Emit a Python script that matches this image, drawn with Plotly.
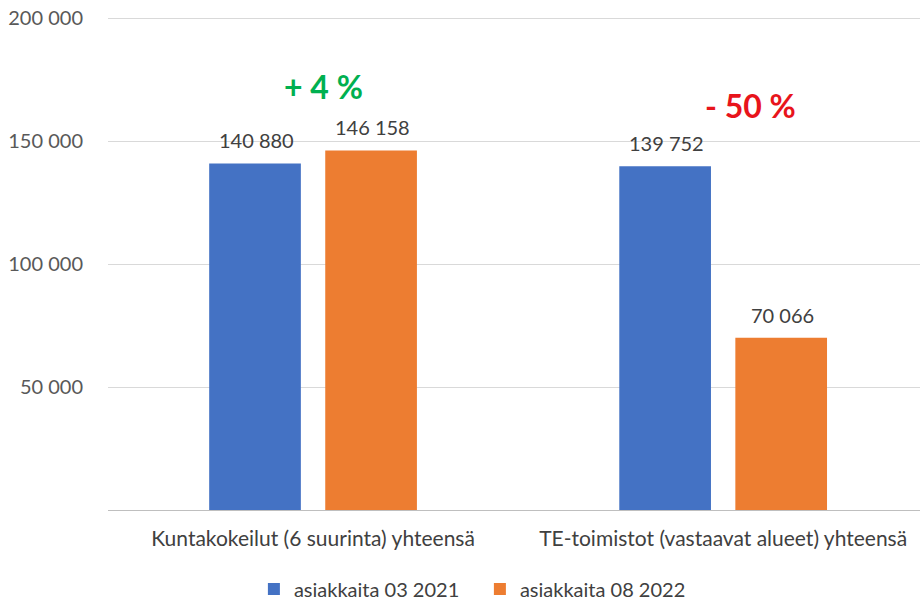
import plotly.graph_objects as go

categories = ["Kuntakokeilut (6 suurinta) yhteensä", "TE-toimistot (vastaavat alueet) yhteensä"]
series_names = ["asiakkaita 03 2021", "asiakkaita 08 2022"]
values_2021 = [140880, 139752]
values_2022 = [146158, 70066]
changes = ["+ 4 %", "- 50 %"]
tick_vals = [50000, 100000, 150000, 200000]
tick_text = ["50 000", "100 000", "150 000", "200 000"]

colors = ["#4472C4", "#ED7D31"]
FONT = "Lato, Liberation Sans, sans-serif"

def fmt(v):
    return f"{v:,}".replace(",", " ")

fig = go.Figure()
for name, vals, col in zip(series_names, [values_2021, values_2022], colors):
    fig.add_trace(go.Bar(x=categories, y=vals, name=name, marker_color=col,
                         marker_line_width=0, hoverinfo="skip"))

# value labels above bars
offsets = [-57, 59]
for vals, off in zip([values_2021, values_2022], offsets):
    for cat, v in zip(categories, vals):
        fig.add_annotation(x=cat, y=v, text=fmt(v), showarrow=False, xshift=off,
                           yshift=23, font=dict(family=FONT, size=20, color="#404040"))

# change annotations
fig.add_annotation(x=categories[0], y=172000, text="<b>" + changes[0] + "</b>", showarrow=False,
                   xshift=10, font=dict(family=FONT, size=32, color="#00B050"))
fig.add_annotation(x=categories[1], y=164500, text="<b>" + changes[1] + "</b>", showarrow=False,
                   xshift=27, font=dict(family=FONT, size=32, color="#E8141B"))

fig.update_layout(
    width=920, height=601,
    margin=dict(l=108, r=0, t=15, b=91, autoexpand=False),
    paper_bgcolor="white", plot_bgcolor="white",
    barmode="group", bargap=0.434, bargroupgap=0.21,
    font=dict(family=FONT, size=18, color="#404040"),
    showlegend=True,
    legend=dict(orientation="h", x=0.458, xanchor="center", yref="container", y=0.02,
                yanchor="middle", font=dict(family=FONT, size=20, color="#404040"),
                itemwidth=30, traceorder="normal", entrywidth=181, entrywidthmode="pixels"),
)
fig.update_xaxes(range=[-0.5, 1.48], showgrid=False, showline=False, ticks="",
                 automargin=False, ticklabelstandoff=14,
                 tickfont=dict(family=FONT, size=21, color="#404040"))
fig.update_yaxes(range=[0, 201220], tickvals=tick_vals, ticktext=tick_text,
                 showgrid=True, gridcolor="#D9D9D9", gridwidth=1,
                 zeroline=True, zerolinecolor="#BFBFBF", zerolinewidth=1,
                 showline=False, ticks="", automargin=False, ticklabelstandoff=24,
                 tickfont=dict(family=FONT, size=20, color="#595959"))

fig.write_html("out.html", config={"displayModeBar": False},
               post_script="document.body.style.margin='0';")
